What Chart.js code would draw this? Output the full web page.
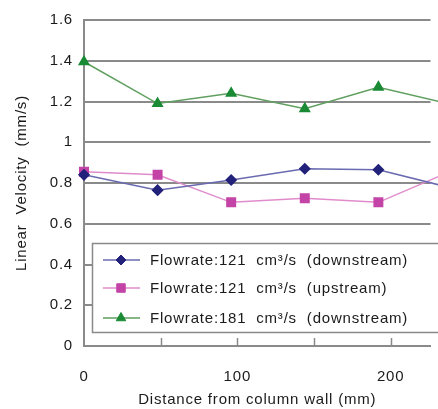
<!DOCTYPE html>
<html>
<head>
<meta charset="utf-8">
<script src="https://cdn.jsdelivr.net/npm/chart.js@4.4.0/dist/chart.umd.min.js"></script>
<style>
  html, body { margin: 0; padding: 0; background: #fff; overflow: hidden; }
  #wrap { position: relative; width: 438px; height: 409px; }
</style>
</head>
<body>
<div id="wrap"><canvas id="velChart"></canvas></div>
<script>
// distance from column wall (mm) and linear velocity (mm/s)
const distances = [0, 48, 96, 144, 192, 240];
const down121 = [0.84, 0.765, 0.815, 0.87, 0.865, 0.775];
const up121 = [0.855, 0.84, 0.705, 0.725, 0.705, 0.86];
const down181 = [1.395, 1.19, 1.24, 1.165, 1.27, 1.185];
const seriesLabels = [
  'Flowrate:121  cm³/s  (downstream)',
  'Flowrate:121  cm³/s  (upstream)',
  'Flowrate:181  cm³/s  (downstream)'
];
const xTickMarks = [50, 100, 150, 200];
const xLabelValues = [0, 100, 200];

const FONT = 'Liberation Sans, Arial, sans-serif';
const toPoints = vals => vals.map((v, i) => ({ x: distances[i], y: v }));

// slightly wider text, like the original figure
const spacing = {
  id: 'spacing',
  beforeUpdate(chart) { chart.ctx.letterSpacing = '0.8px'; },
  beforeDraw(chart) { chart.ctx.letterSpacing = '0.8px'; }
};

// small tick marks pointing up into the plot
const innerTicks = {
  id: 'innerTicks',
  afterDraw(chart) {
    const { ctx, scales: { x }, chartArea } = chart;
    ctx.save();
    ctx.strokeStyle = '#8a8a8a';
    ctx.lineWidth = 1.5;
    xTickMarks.forEach(v => {
      const px = Math.round(x.getPixelForValue(v)) + 0.5;
      ctx.beginPath();
      ctx.moveTo(px, chartArea.bottom);
      ctx.lineTo(px, chartArea.bottom - 8);
      ctx.stroke();
    });
    ctx.restore();
  }
};

// boxed legend inside the plot
const boxLegend = {
  id: 'boxLegend',
  afterDatasetsDraw(chart) {
    const { ctx, chartArea: a } = chart;
    const left = a.left + 8, top = a.bottom - 103, bottom = a.bottom - 14;
    const right = chart.width + 10;
    ctx.save();
    ctx.fillStyle = '#fff';
    ctx.strokeStyle = '#8a8a8a';
    ctx.lineWidth = 1.5;
    ctx.fillRect(left, top, right - left, bottom - top);
    ctx.strokeRect(left + 0.5, top + 0.5, right - left, bottom - top);
    const rows = [a.bottom - 86, a.bottom - 58, a.bottom - 28];
    chart.data.datasets.forEach((ds, i) => {
      const y = rows[i];
      ctx.strokeStyle = ds.borderColor;
      ctx.lineWidth = 1.5;
      ctx.beginPath();
      ctx.moveTo(left + 11, y);
      ctx.lineTo(left + 48, y);
      ctx.stroke();
      ctx.fillStyle = ds.pointBackgroundColor;
      ctx.strokeStyle = ds.pointBorderColor;
      ctx.lineWidth = 1;
      Chart.helpers.drawPoint(ctx, { pointStyle: ds.pointStyle, radius: ds.pointRadius, rotation: 0, borderWidth: 1 }, left + 29, y);
      ctx.fillStyle = '#1a1a1a';
      ctx.font = '15px ' + FONT;
      ctx.textBaseline = 'middle';
      ctx.textAlign = 'left';
      ctx.fillText(seriesLabels[i], left + 58, y + 1);
    });
    ctx.restore();
  }
};

const ctx = document.getElementById('velChart').getContext('2d');
const chart = new Chart(ctx, {
  type: 'line',
  data: {
    datasets: [{
      label: seriesLabels[0],
      data: toPoints(down121),
      borderColor: '#6a6ab0',
      borderWidth: 1.5,
      pointStyle: 'rectRot',
      pointRadius: 5,
      pointBackgroundColor: '#22227a',
      pointBorderColor: '#22227a',
      tension: 0,
      clip: false
    }, {
      label: seriesLabels[1],
      data: toPoints(up121),
      borderColor: '#e08ccc',
      borderWidth: 1.5,
      pointStyle: 'rect',
      pointRadius: 6,
      pointBackgroundColor: '#c443a6',
      pointBorderColor: '#c443a6',
      tension: 0,
      clip: false
    }, {
      label: seriesLabels[2],
      data: toPoints(down181),
      borderColor: '#5f9f5f',
      borderWidth: 1.5,
      pointStyle: 'triangle',
      pointRadius: 5.5,
      pointBackgroundColor: '#1a8a34',
      pointBorderColor: '#1a8a34',
      tension: 0,
      clip: false
    }]
  },
  options: {
    responsive: true,
    maintainAspectRatio: false,
    animation: false,
    events: [],
    layout: { padding: { top: 19, right: 0, left: 0, bottom: 0 } },
    plugins: { legend: { display: false }, tooltip: { enabled: false } },
    scales: {
      x: {
        type: 'linear',
        min: 0,
        max: 226,
        afterFit: s => { s.height = 63; },
        grid: { display: true, drawOnChartArea: false, drawTicks: false },
        border: { color: '#8a8a8a', width: 2 },
        ticks: {
          stepSize: 50,
          includeBounds: false,
          padding: 22,
          color: '#1a1a1a',
          font: { family: FONT, size: 15 },
          maxRotation: 0,
          callback: v => xLabelValues.includes(v) ? String(v) : ''
        },
        title: {
          display: true,
          text: 'Distance from column wall (mm)',
          color: '#1a1a1a',
          font: { family: FONT, size: 15 },
          padding: { top: 0, bottom: 0 }
        }
      },
      y: {
        min: 0,
        max: 1.6,
        afterFit: s => { s.width = 84; },
        grid: { color: '#8a8a8a', lineWidth: 2, drawTicks: false },
        border: { color: '#8a8a8a', width: 2 },
        ticks: {
          stepSize: 0.2,
          padding: 11,
          color: '#1a1a1a',
          font: { family: FONT, size: 15 },
          callback: v => String(Math.round(v * 10) / 10)
        },
        title: {
          display: true,
          text: 'Linear  Velocity  (mm/s)',
          color: '#1a1a1a',
          font: { family: FONT, size: 15 },
          padding: { top: 13, bottom: 0 }
        }
      }
    }
  },
  plugins: [spacing, innerTicks, boxLegend]
});
</script>
</body>
</html>
